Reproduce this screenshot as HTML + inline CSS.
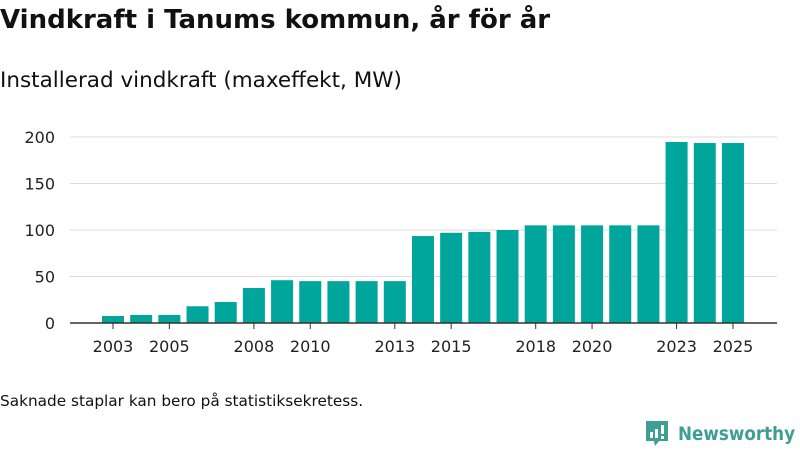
<!DOCTYPE html>
<html><head><meta charset="utf-8"><style>
body{margin:0;width:800px;height:450px;background:#fff;font-family:"DejaVu Sans","Liberation Sans",sans-serif;overflow:hidden}
</style></head><body>
<svg width="800" height="450" xmlns="http://www.w3.org/2000/svg">
<text x="0" y="28" font-size="26" font-weight="bold" fill="#111">Vindkraft i Tanums kommun, år för år</text>
<text x="0" y="87" font-size="21.5" fill="#111">Installerad vindkraft (maxeffekt, MW)</text>
<g id="grid"></g><g id="bars"></g><g id="xax"></g>
<text x="0" y="406" font-size="15.3" fill="#111">Saknade staplar kan bero på statistiksekretess.</text>
<g>
<path d="M646 421 h22 v20 h-9 l-4 5 l-1 -5 h-8 z" fill="#3f9e94"/>
<rect x="650" y="432" width="3" height="6" fill="#fff"/><rect x="655" y="429" width="3" height="9" fill="#fff"/><rect x="661" y="425" width="3" height="9" fill="#fff"/><rect x="661" y="436" width="3" height="3" fill="#fff"/>
<text x="678" y="440" font-size="19" font-weight="bold" fill="#3f9e94" textLength="117" lengthAdjust="spacingAndGlyphs">Newsworthy</text>
</g>
</svg>
<script>
const years=[2003,2004,2005,2006,2007,2008,2009,2010,2011,2012,2013,2014,2015,2016,2017,2018,2019,2020,2021,2022,2023,2024,2025];
const values=[7.5,8.6,8.6,18,22.6,37.6,46,45,45,45,45,93.5,97,98,100,105,105,105,105,105,194.6,193.5,193.5];
const yTicks=[0,50,100,150,200];
const xTicks=[2003,2005,2008,2010,2013,2015,2018,2020,2023,2025];
const NS="http://www.w3.org/2000/svg";
const y=v=>323-v*0.93;
const x=yr=>113+(yr-2003)*28.18;
function mk(t,a,p){const e=document.createElementNS(NS,t);for(const k in a)e.setAttribute(k,a[k]);p.appendChild(e);return e;}
const g=document.getElementById('grid'),b=document.getElementById('bars'),xa=document.getElementById('xax');
yTicks.forEach(v=>{
 if(v>0){const l=mk('line',{x1:70,x2:777,y1:y(v),y2:y(v),stroke:'#ddd','stroke-width':1},g);
 
 }
 const t=mk('text',{x:55,y:y(v)+6,'font-size':16,fill:'#222','text-anchor':'end'},g);t.textContent=v;
 
 
});
years.forEach((yr,i)=>{
 const r=mk('rect',{x:x(yr)-11,y:y(values[i]),width:22,height:323-y(values[i]),fill:'#00a59b'},b);
 
 
});
const ax=mk('line',{x1:70,x2:777,y1:323,y2:323,stroke:'#333','stroke-width':1.5},xa);


xTicks.forEach(yr=>{
 mk('line',{x1:x(yr),x2:x(yr),y1:323,y2:329,stroke:'#333'},xa);
 const t=mk('text',{x:x(yr),y:352,'font-size':16,fill:'#222','text-anchor':'middle'},xa);t.textContent=yr;
 
 
});
</script>
</body></html>
